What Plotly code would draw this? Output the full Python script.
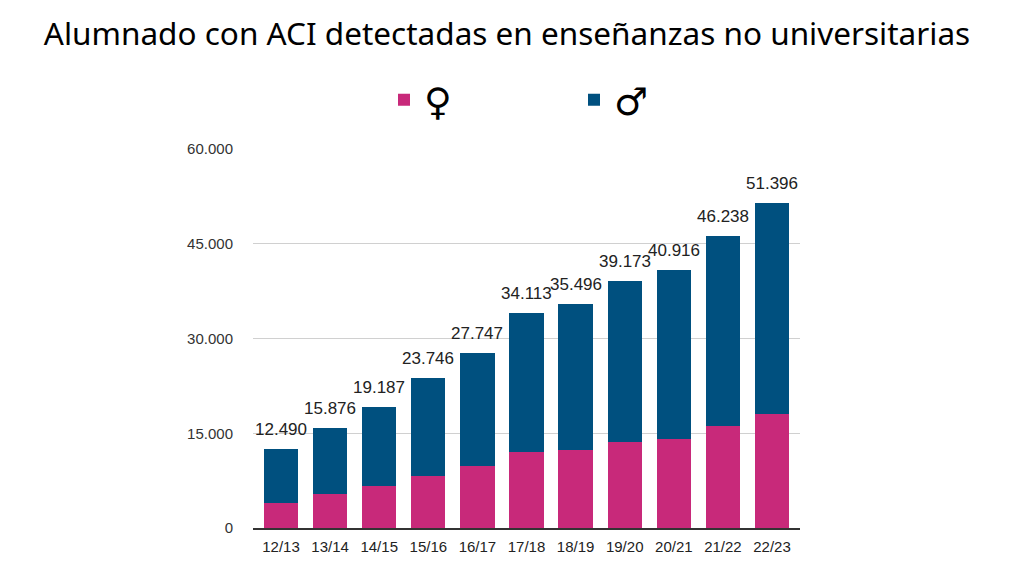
import plotly.graph_objects as go

# datos
cursos = ['12/13', '13/14', '14/15', '15/16', '16/17', '17/18',
          '18/19', '19/20', '20/21', '21/22', '22/23']
total = [12490, 15876, 19187, 23746, 27747, 34113, 35496, 39173, 40916, 46238, 51396]
# alumnas (aprox.)
mujeres = [4010, 5390, 6600, 8290, 9770, 11990, 12300, 13570, 14150, 16100, 18060]
hombres = [t - m for t, m in zip(total, mujeres)]
etiquetas = ['{:,}'.format(t).replace(',', '.') for t in total]

color_mujer = '#C8297A'
color_hombre = '#00507F'

# la pagina tiene 8px de margen en el body, se compensa aqui
off = 8

fig = go.Figure()
fig.add_trace(go.Bar(x=cursos, y=mujeres, name='\u2640', marker_color=color_mujer,
                     marker_line_width=0))
fig.add_trace(go.Bar(x=cursos, y=hombres, name='\u2642', marker_color=color_hombre,
                     marker_line_width=0))

# totales encima de cada barra
for c, t, e in zip(cursos, total, etiquetas):
    fig.add_annotation(x=c, y=t, text=e, showarrow=False, yanchor='bottom', yshift=8,
                       font=dict(family='Liberation Sans', size=17, color='#222'))

fig.update_layout(
    barmode='stack',
    bargap=0.3,
    width=1024, height=576,
    paper_bgcolor='white', plot_bgcolor='white',
    separators=',.',
    margin=dict(l=253 - off, r=224 + off, t=149 - off, b=48 + off),
    title=dict(text='Alumnado con ACI detectadas en enseñanzas no universitarias',
               x=(507 - off) / 1024, xanchor='center', y=1 - (34 - off) / 576, yanchor='middle',
               font=dict(family='Noto Sans', size=31.5, color='black')),
    legend=dict(orientation='h', xref='container', yref='container', traceorder='normal',
                x=(384 - off) / 1024, xanchor='left', y=1 - (100 - off) / 576, yanchor='middle',
                entrywidth=145, entrywidthmode='pixels',
                font=dict(family='DejaVu Sans', size=38, color='black')),
    font=dict(family='Liberation Sans', size=15, color='#333'),
)
fig.update_yaxes(range=[0, 60000], tickvals=[0, 15000, 30000, 45000, 60000],
                 tickformat=',d', gridcolor='#d0d0d0', gridwidth=1, automargin=False,
                 zeroline=False, showline=False, ticks='', ticklabelstandoff=19,
                 tickfont=dict(family='Liberation Sans', size=15, color='#333'))
fig.update_xaxes(showline=True, linecolor='#333', linewidth=2, ticks='', ticklabelstandoff=4,
                 automargin=False,
                 tickfont=dict(family='Liberation Sans', size=15, color='#222'))

fig.write_html('out.html')
